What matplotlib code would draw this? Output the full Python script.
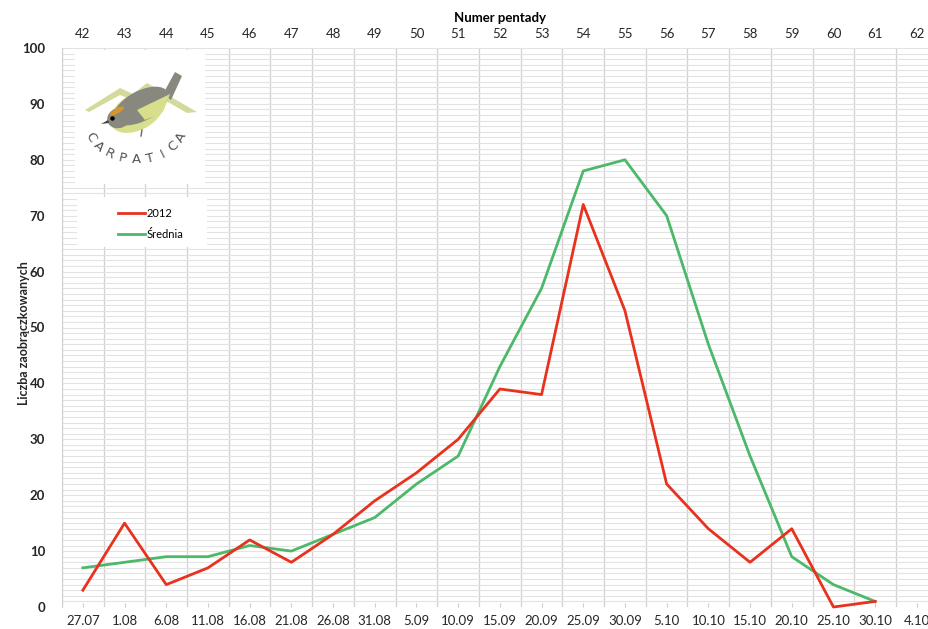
import numpy as np
import matplotlib
matplotlib.use("Agg")
import matplotlib.pyplot as plt
from matplotlib.patches import Ellipse, Polygon, Rectangle


# ============================================================
# 1. Dane
# ============================================================
dates = ["27.07", "1.08", "6.08", "11.08", "16.08", "21.08", "26.08",
         "31.08", "5.09", "10.09", "15.09", "20.09", "25.09", "30.09",
         "5.10", "10.10", "15.10", "20.10", "25.10", "30.10", "4.10"]
pentads = [str(p) for p in range(42, 63)]

rok_2012 = [3, 15, 4, 7, 12, 8, 13, 19, 24, 30, 39, 38, 72, 53,
            22, 14, 8, 14, 0, 1]
srednia = [7, 8, 9, 9, 11, 10, 13, 16, 22, 27, 43, 57, 78, 80,
           70, 47, 27, 9, 4, 1]

RED = "#e8321e"
GREEN = "#4cb86a"
TEXT = "#262626"

plt.rcParams["font.family"] = ["Lato", "DejaVu Sans"]

# ============================================================
# 2. Figura i osie
# ============================================================
fig = plt.figure(figsize=(9.29, 6.29), dpi=100)
W, H = 929, 629
left_px, right_px, top_px, bot_px = 62, 937.7, 48, 607
ax_w, ax_h = right_px - left_px, bot_px - top_px
ax = fig.add_axes([left_px / W, 1 - bot_px / H, ax_w / W, ax_h / H])

x = np.arange(len(dates))
ax.set_xlim(-0.5, len(dates) - 0.5)
ax.set_ylim(0, 100)

# siatka pozioma co 1, pionowa na granicach kategorii
ax.set_yticks(np.arange(0, 101, 10))
ax.set_yticks(np.arange(0, 101, 1), minor=True)
ax.set_xticks(x)
ax.set_xticks(np.arange(-0.5, len(dates), 1), minor=True)
ax.grid(which="both", axis="y", color="#e3e3e3", lw=0.8)
ax.grid(which="minor", axis="x", color="#d6cfd0", lw=0.9)
ax.set_axisbelow(True)

for side in ["top", "right", "bottom"]:
    ax.spines[side].set_visible(False)
ax.spines["left"].set_color("#d6cfd0")

ax.set_xticklabels(dates, fontsize=9.5, color=TEXT)
ax.set_yticklabels([str(v) for v in range(0, 101, 10)], fontsize=9.5,
                   fontweight="bold", color=TEXT)
ax.tick_params(axis="x", which="major", length=3, direction="in",
               color="#cccccc", pad=6)
ax.tick_params(axis="x", which="minor", length=0)
ax.tick_params(axis="y", which="both", length=0, pad=12)

ax.set_ylabel("Liczba zaobrączkowanych", fontsize=9, fontweight="bold",
              color=TEXT)
ax.yaxis.set_label_coords(-0.036, 0.49)

# oś górna - numer pentady
top = ax.secondary_xaxis("top")
top.set_xticks(x)
top.set_xticklabels(pentads, fontsize=9.5, color=TEXT)
top.tick_params(length=0, pad=6)
top.spines["top"].set_visible(False)
top.set_xlabel("Numer pentady", fontsize=9.5, fontweight="bold",
               color="black", labelpad=4)

# ============================================================
# 3. Linie
# ============================================================
ax.plot(x[:len(rok_2012)], rok_2012, color=RED, lw=2.0,
        label="2012", clip_on=False, zorder=4)
ax.plot(x[:len(srednia)], srednia, color=GREEN, lw=2.0,
        label="Średnia", clip_on=False, zorder=3)

# ============================================================
# 4. Logo (uproszczone) - osobne osie w pikselach
# ============================================================
lx0, ly0, lw_, lh_ = 75, 50, 130, 134
logo = fig.add_axes([lx0 / W, 1 - (ly0 + lh_) / H, lw_ / W, lh_ / H])
logo.set_xlim(0, lw_)
logo.set_ylim(lh_, 0)
logo.set_facecolor("white")
logo.set_xticks([])
logo.set_yticks([])
for s in logo.spines.values():
    s.set_visible(False)

# góry w tle
logo.add_patch(Polygon([[10, 60], [45, 38], [58, 44], [72, 33], [122, 62],
                        [112, 63], [72, 40], [58, 50], [45, 45], [14, 62]],
                       closed=True, facecolor="#d4da9c", edgecolor="none"))
# brzuch
logo.add_patch(Ellipse((62, 62), 58, 36, angle=-28,
                       facecolor="#d8df8c", edgecolor="none"))
# grzbiet i ogon
logo.add_patch(Ellipse((66, 56), 60, 30, angle=-28,
                       facecolor="#88887f", edgecolor="none"))
logo.add_patch(Polygon([[88, 44], [100, 22], [107, 26], [96, 50]],
                       closed=True, facecolor="#88887f", edgecolor="none"))
logo.add_patch(Polygon([[62, 60], [95, 44], [88, 62], [70, 70]],
                       closed=True, facecolor="#d8df8c", edgecolor="none"))
# głowa
logo.add_patch(Ellipse((44, 68), 24, 20, angle=-20,
                       facecolor="#88887f", edgecolor="none"))
logo.add_patch(Ellipse((42, 61), 16, 5, angle=-30,
                       facecolor="#d8962a", edgecolor="none"))
logo.add_patch(Polygon([[33, 70], [26, 74], [34, 73]], closed=True,
                       facecolor="#444444", edgecolor="none"))
logo.plot([37], [68], marker="o", ms=2.2, color="black")
logo.plot([67, 66], [80, 86], color="#666666", lw=1)

# napis po łuku
word = "CARPATICA"
cx0, cy0, rx, ry = 61, 70, 50, 40
angs = np.deg2rad(np.linspace(205, 335, len(word)))
for ch, a in zip(word, angs):
    px = cx0 + rx * np.cos(a)
    py = cy0 - ry * np.sin(a)
    # kierunek stycznej na ekranie (oś y odwrócona)
    rot = np.degrees(np.arctan2(ry * np.cos(a), -rx * np.sin(a)))
    logo.text(px, py, ch, fontsize=9.5, color="#555555", ha="center",
              va="center", rotation=rot, rotation_mode="anchor",
              family=["DejaVu Sans"])

# ============================================================
# 5. Legenda na białym tle
# ============================================================
ax.add_patch(Rectangle(((77 - left_px) / ax_w, 1 - (247 - top_px) / ax_h),
                       130 / ax_w, 50 / ax_h, transform=ax.transAxes,
                       facecolor="white", edgecolor="none", zorder=2))
leg = ax.legend(loc="upper left",
                bbox_to_anchor=((118 - left_px) / ax_w, 1 - (208 - top_px) / ax_h),
                frameon=False, fontsize=8, handlelength=2.4,
                handletextpad=0.15, labelspacing=0.9, borderpad=0,
                borderaxespad=0)
leg.set_zorder(5)
for t in leg.get_texts():
    t.set_color("black")

fig.savefig("out.png", dpi=100)
